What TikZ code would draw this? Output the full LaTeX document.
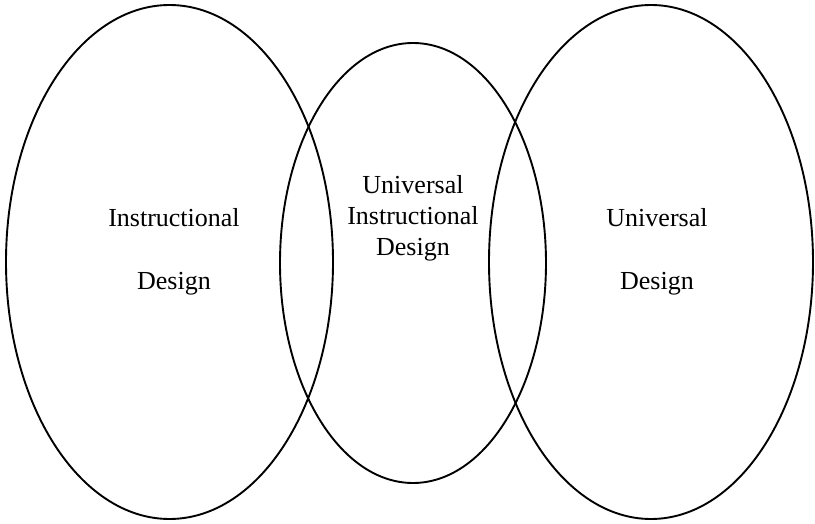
\documentclass[tikz,border=0pt]{standalone}
\usepackage{fontspec}
\setmainfont{Liberation Serif}
\usetikzlibrary{positioning,shapes.geometric}
\tikzset{
    every picture/.style={line width=1.9pt},
    set/.style={ellipse,draw,inner sep=0pt},
    setlabel/.style={align=center,font=\fontsize{26}{31}\selectfont}
}

\begin{document}
\begin{tikzpicture}[x=1pt,y=-1pt]
        \useasboundingbox (0,0) rectangle (815,524);

        % The three sets
        \node[set,minimum width=327pt,minimum height=514pt] (instr) at (169.5,262) {};
        \node[set,minimum width=266pt,minimum height=440pt] (uid) at (413,263) {};
        \node[set,minimum width=324pt,minimum height=514pt] (univ) at (651,262) {};

        % Labels
        \node[setlabel] (instrlabel) at (174,252) {Instructional\\[32pt]Design};
        \node[setlabel] (uidlabel) at (413,218) {Universal\\Instructional\\Design};
        \node[setlabel] (univlabel) at (657,252) {Universal\\[32pt]Design};
    \end{tikzpicture}
\end{document}
